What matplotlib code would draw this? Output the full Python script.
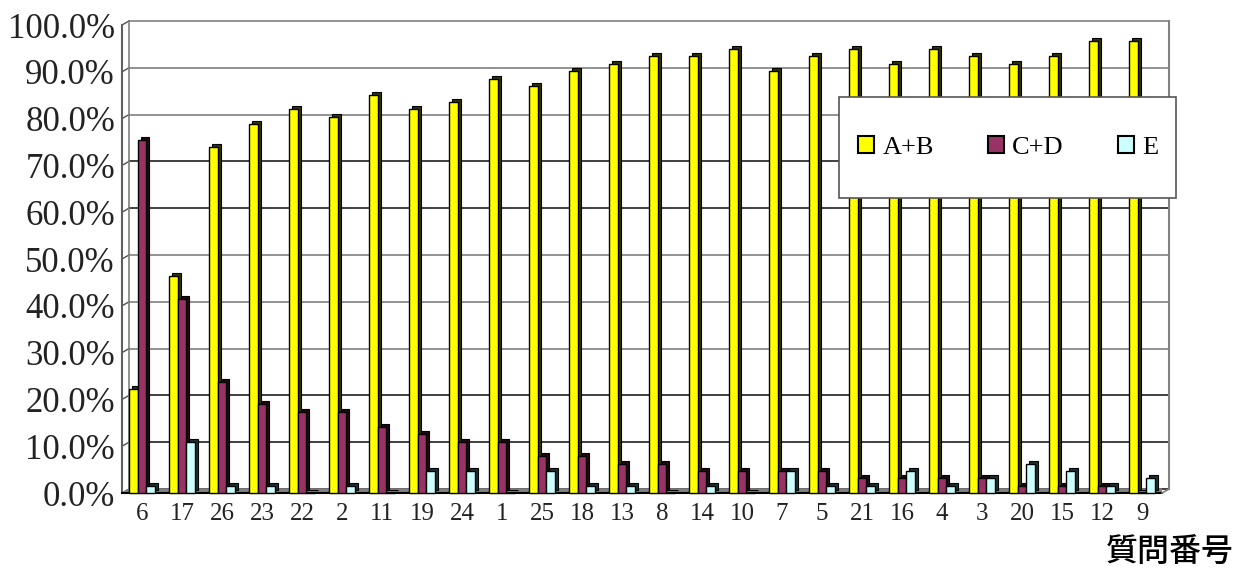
import matplotlib
matplotlib.use("Agg")
import matplotlib.pyplot as plt
from matplotlib.patches import Patch, Polygon, Rectangle
import numpy as np

# ---------------- data ----------------
questions = ["6", "17", "26", "23", "22", "2", "11", "19", "24", "1", "25", "18", "13",
             "8", "14", "10", "7", "5", "21", "16", "4", "3", "20", "15", "12", "9"]
ab = [22.2, 46.4, 74.0, 78.8, 82.0, 80.4, 85.0, 82.0, 83.6, 88.4, 86.9, 90.2, 91.7,
      93.3, 93.3, 94.9, 90.2, 93.3, 94.9, 91.7, 94.9, 93.3, 91.7, 93.3, 96.5, 96.5]
cd = [75.4, 41.5, 23.8, 19.0, 17.4, 17.4, 14.2, 12.6, 11.0, 11.0, 7.9, 7.9, 6.3,
      6.3, 4.7, 4.7, 4.7, 4.7, 3.2, 3.2, 3.2, 3.2, 1.6, 1.6, 1.6, 0.0]
e = [1.6, 11.0, 1.6, 1.6, 0.0, 1.6, 0.0, 4.7, 4.7, 0.0, 4.7, 1.6, 1.6,
     0.0, 1.6, 0.0, 4.7, 1.6, 1.6, 4.7, 1.6, 3.2, 6.3, 4.7, 1.6, 3.2]
series_labels = ["A+B", "C+D", "E"]
yticks = [0, 10, 20, 30, 40, 50, 60, 70, 80, 90, 100]
xlabel = "質問番号"

# ---------------- style ----------------
front_colors = ["#FFFF00", "#993366", "#CCFFFF"]
side_colors = ["#333300", "#1f0a14", "#1a3333"]
serif = ["Liberation Serif", "DejaVu Serif"]

W, H, DPI = 12.48, 5.70, 100
fig = plt.figure(figsize=(W, H), dpi=DPI)
fig.patch.set_facecolor("white")

ax_l, ax_r, ax_t, ax_b = 122, 1162, 25, 493  # pixel box of the front plane
ax = fig.add_axes([ax_l / 1248, 1 - ax_b / 570, (ax_r - ax_l) / 1248, (ax_b - ax_t) / 570])
n = len(questions)
x = np.arange(n)
ax.set_xlim(-0.5, n - 0.5)
ax.set_ylim(0, 100)
for s in ax.spines.values():
    s.set_visible(False)

px_x = (ax_r - ax_l) / n          # pixels per category unit
px_y = (ax_b - ax_t) / 100.0      # pixels per percent
wall_dx, wall_dy = 7 / px_x, 4 / px_y   # depth of the 3D walls (data units)
bar_dx, bar_dy = 3 / px_x, 3 / px_y     # depth of the 3D bars

x0, x1 = -0.5, n - 0.5
# floor
floor = Polygon([(x0, 0), (x1, 0), (x1 + wall_dx, wall_dy), (x0 + wall_dx, wall_dy)],
                closed=True, facecolor="#808080", edgecolor="#808080", lw=1, zorder=1)
ax.add_patch(floor)
ax.plot([x0, x1], [0, 0], color="black", lw=1.5, zorder=1.5, clip_on=False)
ax.plot([x1, x1 + wall_dx], [0, wall_dy], color="#808080", lw=1.2, zorder=1.5, clip_on=False)

# back-wall gridlines
for v in yticks:
    col = "#808080" if v in (100, 90, 80, 50, 40, 30) else "#202020"
    ax.plot([x0 + wall_dx, x1 + wall_dx], [v + wall_dy, v + wall_dy], color=col,
            lw=1.2, zorder=0.5, clip_on=False)
    ax.plot([x0, x0 + wall_dx], [v, v + wall_dy], color="#505050", lw=1.0, zorder=0.6,
            clip_on=False)
# wall edges
ax.plot([x0 + wall_dx, x0 + wall_dx], [wall_dy, 100 + wall_dy], color="#808080", lw=1.2,
        zorder=0.6, clip_on=False)
ax.plot([x1 + wall_dx, x1 + wall_dx], [wall_dy, 100 + wall_dy], color="#808080", lw=1.5,
        zorder=0.6, clip_on=False)
ax.plot([x0, x0], [0, 100], color="#606060", lw=1.5, zorder=0.7, clip_on=False)

# bars with 3D look
bw = 0.22
offsets = [-bw, 0.0, bw]
for vals, fc, sc, off in zip([ab, cd, e], front_colors, side_colors, offsets):
    vals = np.asarray(vals)
    ax.bar(x + off + bar_dx, vals, width=bw, bottom=bar_dy, color=sc, edgecolor="black",
           lw=0.8, zorder=2, clip_on=False)
    ax.bar(x + off, vals, width=bw, color=fc, edgecolor="black", lw=1.0, zorder=2,
           clip_on=False)

ax.set_yticks(yticks)
ax.set_yticklabels([f"{v:.1f}%" for v in yticks], fontfamily=serif, fontsize=25,
                   color="#222222")
ax.set_xticks(x)
ax.set_xticklabels(questions, fontfamily=serif, fontsize=18, color="#222222")
ax.tick_params(axis="y", length=0, pad=5)
ax.tick_params(axis="x", length=0, pad=7)

# legend box and entries
box = Rectangle((839 / 1248, 1 - 198 / 570), 337 / 1248, 101 / 570,
                transform=fig.transFigure, facecolor="white", edgecolor="#555555",
                lw=1.2, zorder=4)
fig.add_artist(box)
handles = [Patch(facecolor=c, edgecolor="black", lw=1.5) for c in front_colors]
leg = fig.legend(handles, series_labels, ncol=3, loc="center",
                 bbox_to_anchor=(858 / 1248, 1 - 198 / 570, 300 / 1248, 101 / 570),
                 mode="expand", borderaxespad=0, borderpad=0, frameon=False,
                 prop={"family": serif, "size": 19},
                 handlelength=0.62, handleheight=0.62, handletextpad=0.3)
leg.set_zorder(5)

fig.text(1170 / 1248, 1 - 553 / 570, xlabel, ha="center", va="center", fontsize=23,
         fontfamily=["Noto Sans CJK JP", "DejaVu Sans"], fontweight="medium",
         color="black")

fig.savefig("out.png", dpi=DPI, facecolor="white")
